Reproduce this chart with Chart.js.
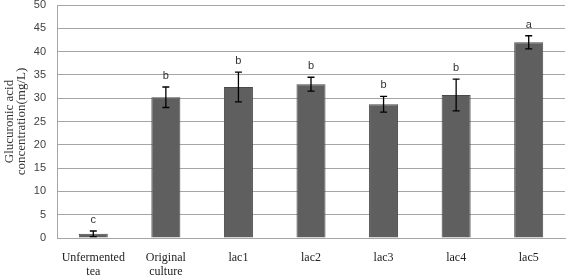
<!DOCTYPE html>
<html><head><meta charset="utf-8">
<script src="https://cdn.jsdelivr.net/npm/chart.js@4/dist/chart.umd.min.js"></script>
<style>html,body{margin:0;padding:0;background:#fff}#wrap{width:567px;height:278px}</style>
</head><body><div id="wrap"><canvas id="c"></canvas></div>
<script>
const categories = [["Unfermented","tea"],["Original","culture"],"lac1","lac2","lac3","lac4","lac5"];
const values = [0.9, 30.2, 32.4, 33.0, 28.7, 30.7, 42.0];
const errors = [0.6, 2.2, 3.2, 1.5, 1.7, 3.4, 1.4];
const letters = ["c","b","b","b","b","b","a"];
const yTicks = [0,5,10,15,20,25,30,35,40,45,50];

const errPlugin = {
  id: 'err',
  afterDatasetsDraw(chart) {
    const ctx = chart.ctx, meta = chart.getDatasetMeta(0), y = chart.scales.y;
    ctx.save();
    meta.data.forEach((bar, i) => {
      const x = bar.x, top = y.getPixelForValue(values[i] + errors[i]), bot = y.getPixelForValue(values[i] - errors[i]);
      ctx.strokeStyle = '#000'; ctx.lineWidth = 1.3;
      ctx.beginPath();
      ctx.moveTo(x, top); ctx.lineTo(x, bot);
      ctx.moveTo(x - 3.5, top); ctx.lineTo(x + 3.5, top);
      ctx.moveTo(x - 3.5, bot); ctx.lineTo(x + 3.5, bot);
      ctx.stroke();
      ctx.fillStyle = '#333'; ctx.font = '11px "Liberation Sans"';
      ctx.textAlign = 'center'; ctx.textBaseline = 'middle';
      ctx.fillText(letters[i], x, top - 11);
    });
    ctx.restore();
  }
};

new Chart(document.getElementById('c'), {
  type: 'bar',
  data: { labels: categories, datasets: [{ data: values, backgroundColor: '#5f5f5f', borderColor: '#4a4a4a', borderWidth: 1, categoryPercentage: 1, barPercentage: 0.4 }] },
  options: {
    responsive: true, maintainAspectRatio: false, animation: false,
    layout: { padding: { top: 5, right: 2, left: 0, bottom: 0 } },
    plugins: { legend: { display: false }, tooltip: { enabled: false } },
    scales: {
      x: {
        afterFit(s) { s.height = 40; s.paddingLeft = 0; s.paddingRight = 0; },
        grid: { display: false, drawTicks: false },
        border: { color: '#a6a6a6', width: 1 },
        ticks: { color: '#222', font: { family: '"Liberation Serif"', size: 12, lineHeight: 1.17 }, padding: 13, maxRotation: 0, autoSkip: false }
      },
      y: {
        min: 0, max: 50,
        afterBuildTicks(s) { s.ticks = yTicks.map(v => ({ value: v })); },
        afterFit(s) { s.width = 57; s.paddingTop = 0; s.paddingBottom = 0; },
        grid: { color: '#a6a6a6', lineWidth: 1, drawTicks: false },
        border: { color: '#a6a6a6', width: 1 },
        ticks: { color: '#404040', font: { family: '"Liberation Sans"', size: 11 }, padding: 11 },
        title: { display: true, text: ['Glucuronic acid', 'concentration(mg/L)'], color: '#333', font: { family: '"Liberation Serif"', size: 13, lineHeight: 0.95 }, padding: { top: 3, bottom: 0 } }
      }
    }
  },
  plugins: [errPlugin]
});
</script></body></html>
